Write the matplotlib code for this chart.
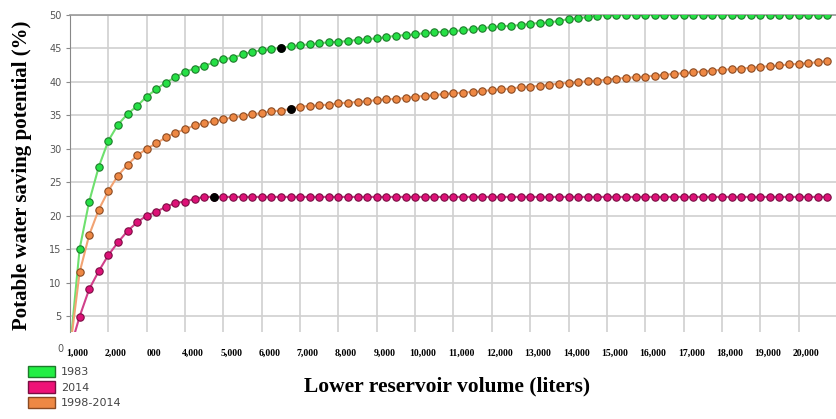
import numpy as np
import matplotlib
matplotlib.use("Agg")
import matplotlib.pyplot as plt
from matplotlib.patches import Patch
import matplotlib.transforms as mtransforms

# volume step between samples (liters)
step = 250

# potable water saving potential (%) per sample
green_1983 = [0, 15.0, 22.1, 27.3, 31.2, 33.6, 35.2, 36.4, 37.8, 38.9,
              39.9, 40.7, 41.5, 42.0, 42.4, 42.9, 43.4, 43.6, 44.1, 44.5,
              44.7, 44.9, 45.1, 45.3, 45.5, 45.6, 45.8, 45.9, 46.0, 46.1,
              46.3, 46.4, 46.5, 46.7, 46.9, 47.0, 47.1, 47.3, 47.4, 47.5,
              47.6, 47.7, 47.9, 48.0, 48.2, 48.3, 48.4, 48.5, 48.7, 48.8,
              48.9, 49.1, 49.4, 49.5, 49.7, 49.9, 50.0, 50.0, 50.0, 50.0,
              50.0, 50.0, 50.0, 50.0, 50.0, 50.0, 50.0, 50.0, 50.0, 50.0,
              50.0, 50.0, 50.0, 50.0, 50.0, 50.0, 50.0, 50.0, 50.0, 50.0]
mag_2014 = [0, 4.9, 9.0, 11.7, 14.1, 16.0, 17.7, 19.0, 20.0, 20.6,
            21.3, 21.9, 22.1, 22.5, 22.8] + [22.8] * 65
orange_9814 = [0, 11.5, 17.1, 20.9, 23.7, 26.0, 27.6, 29.0, 30.0, 30.8,
               31.7, 32.4, 32.9, 33.5, 33.8, 34.1, 34.4, 34.7, 34.9, 35.2,
               35.3, 35.6, 35.7, 35.95, 36.3, 36.4, 36.5, 36.6, 36.8, 36.9,
               37.0, 37.1, 37.3, 37.4, 37.45, 37.6, 37.8, 37.9, 38.0, 38.2,
               38.3, 38.4, 38.5, 38.6, 38.8, 38.9, 39.0, 39.2, 39.3, 39.4,
               39.55, 39.75, 39.85, 39.95, 40.1, 40.2, 40.35, 40.5, 40.6, 40.7,
               40.8, 40.95, 41.05, 41.2, 41.3, 41.45, 41.55, 41.7, 41.8, 41.9,
               42.0, 42.1, 42.25, 42.35, 42.45, 42.6, 42.7, 42.8, 42.95, 43.1]
# index of the highlighted (black) point of each series
best_green = 22
best_mag = 15
best_orange = 23

names = ["1983", "2014", "1998-2014"]
x_ticks = np.arange(1000, 21000, 1000)
x_labels = ["1,000", "2,000", "000", "4,000", "5,000", "6,000", "7,000",
            "8,000", "9,000", "10,000", "11,000", "12,000", "13,000",
            "14,000", "15,000", "16,000", "17,000", "18,000", "19,000",
            "20,000"]
y_ticks = [5, 10, 15, 20, 25, 30, 35, 40, 45, 50]

x = np.arange(len(green_1983)) * step

fig = plt.figure(figsize=(8.37, 4.19), dpi=100)
ax = fig.add_axes([70/837, 1 - 332/419, 1 - 70/837, (332 - 15)/419])

series = [
    (green_1983, best_green, "#6ee06e", "#25e045", "#1d7a2a"),
    (orange_9814, best_orange, "#f2a373", "#ee8844", "#8a4a22"),
    (mag_2014, best_mag, "#d0408a", "#dd1177", "#7a0d42"),
]
for vals, best, lc, fc, ec in series:
    vals = np.array(vals)
    ax.plot(x, vals, color=lc, lw=1.5, zorder=3)
    ax.plot(x[1:], vals[1:], "o", ms=5.3, mfc=fc, mec=ec, mew=0.8, zorder=4)
    ax.plot(x[best], vals[best], "o", ms=5.3, mfc="black", mec="black", zorder=5)

ax.set_xlim(0, 19768)
ax.set_ylim(2.6, 50)

ax.set_xticks(x_ticks)
ax.set_xticklabels([])
ax.set_xticks(x_ticks - 800, x_labels, minor=True)
ax.tick_params(axis="x", which="both", length=0)
ax.tick_params(axis="x", which="minor", pad=12)
for lab in ax.get_xticklabels(minor=True):
    lab.set_fontfamily("Liberation Serif")
    lab.set_fontweight("bold")
    lab.set_fontsize(7)

ax.set_yticks(y_ticks)
ax.tick_params(axis="y", length=3, color="#888888", labelsize=7,
               labelcolor="#555555", pad=3)
ax.grid(which="major", color="#d0d0d0", lw=1.2)
ax.set_axisbelow(True)

for s in ["right", "bottom"]:
    ax.spines[s].set_visible(False)
ax.spines["left"].set_color("#888888")
ax.spines["top"].set_color("#999999")
ax.spines["top"].set_linewidth(1.2)

# y value 0 label sitting below the cut axis
trans = mtransforms.blended_transform_factory(ax.transAxes, ax.transData)
ax.text(-0.0085, 0, "0", transform=trans, ha="right", va="center",
        fontsize=7, color="#555555", clip_on=False)

fig.text(22/837, 1 - 175/419, "Potable water saving potential (%)",
         rotation=90, ha="center", va="center", fontsize=15,
         fontweight="bold", family="Liberation Serif")
fig.text(447/837, 1 - 386/419, "Lower reservoir volume (liters)",
         ha="center", va="center", fontsize=15.5,
         fontweight="bold", family="Liberation Serif")

handles = [Patch(facecolor="#22ee44", edgecolor="#1d7a2a"),
           Patch(facecolor="#ee1177", edgecolor="#7a0d42"),
           Patch(facecolor="#ee8844", edgecolor="#8a4a22")]
fig.legend(handles, names, loc="upper left",
           bbox_to_anchor=(28/837, 1 - 366/419), frameon=False,
           fontsize=8, handlelength=2.4, handleheight=1.2,
           labelspacing=0.35, handletextpad=0.55, borderpad=0,
           borderaxespad=0, labelcolor="#444444")

fig.savefig("out.png", dpi=100)
